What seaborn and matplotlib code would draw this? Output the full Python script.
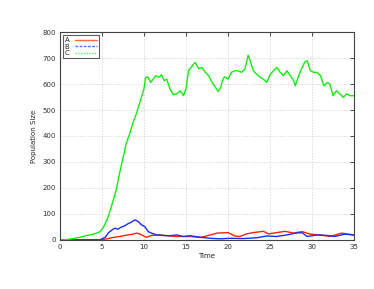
import pandas as pd
import seaborn as sns
import matplotlib
matplotlib.use("Agg")
import matplotlib.pyplot as plt

# ----------------------------
# Data
# ----------------------------
time_a = [0, 4.8, 5.6, 6.3, 7.1, 7.9, 8.7, 9.1, 9.5, 9.9, 10.3, 10.9, 11.9, 12.7, 13.9,
          14.3, 15.1, 15.5, 16.7, 17.9, 18.7, 20.0, 20.8, 21.4, 22.2, 23.0, 24.2, 24.8,
          25.8, 26.8, 27.8, 28.8, 29.8, 31.0, 32.1, 33.5, 34.9, 35.0]
pop_a = [0, 0, 4, 9, 13, 18, 22, 26, 23, 16, 10, 17, 19, 16, 13,
         13, 13, 13, 9, 19, 26, 28, 15, 13, 23, 28, 33, 23,
         28, 33, 26, 32, 22, 19, 13, 26, 19, 20]

time_b = [0, 4.8, 5.0, 5.4, 5.8, 6.2, 6.55, 6.9, 7.3, 7.7, 8.1, 8.5, 8.9, 9.3, 9.7,
          10.1, 10.5, 10.9, 11.5, 12.3, 13.1, 13.9, 14.7, 15.5, 16.7, 17.9, 19.1, 20.2,
          21.8, 23.4, 24.6, 25.8, 27.0, 28.0, 28.8, 29.4, 30.6, 31.8, 32.7, 33.9, 34.9, 35.0]
pop_b = [0, 0, 4, 10, 28, 38, 45, 41, 49, 54, 62, 68, 77, 71, 58,
         51, 32, 26, 19, 17, 16, 19, 13, 16, 10, 6, 4, 6,
         5, 8, 15, 13, 19, 26, 28, 13, 19, 17, 13, 22, 19, 18]

time_c = [0, 0.8, 1.6, 2.4, 3.2, 4.0, 4.8, 5.2, 5.6, 5.95, 6.3, 6.7, 7.1, 7.5, 7.9,
          8.1, 8.3, 8.7, 9.1, 9.4, 9.7, 10.0, 10.2, 10.5, 10.8, 11.1, 11.4, 11.8, 12.1,
          12.4, 12.7, 13.1, 13.5, 13.9, 14.3, 14.7, 15.0, 15.3, 15.9, 16.1, 16.5, 16.9,
          17.3, 17.7, 18.1, 18.5, 18.8, 19.1, 19.4, 19.6, 20.0, 20.4, 20.8, 21.2, 21.6,
          22.0, 22.4, 22.7, 23.0, 23.4, 23.8, 24.2, 24.6, 25.0, 25.4, 25.8, 26.2, 26.6,
          27.0, 27.4, 27.8, 28.0, 28.4, 28.8, 29.1, 29.4, 29.8, 30.2, 30.6, 31.0, 31.4,
          31.8, 32.1, 32.5, 32.9, 33.3, 33.7, 34.1, 34.5, 35.0]
pop_c = [0, 1, 5, 10, 17, 22, 32, 49, 77, 109, 147, 192, 256, 314, 372,
         390, 408, 452, 485, 517, 549, 581, 626, 626, 606, 619, 632, 626, 636,
         613, 619, 581, 559, 562, 574, 555, 581, 651, 677, 683, 659, 664,
         645, 632, 606, 587, 572, 585, 619, 628, 619, 645, 651, 651, 645,
         658, 711, 683, 651, 638, 626, 619, 606, 636, 651, 664, 645, 632,
         651, 632, 613, 593, 632, 664, 683, 690, 651, 645, 645, 632, 593,
         606, 600, 555, 574, 562, 548, 562, 555, 555]

series_names = ["A", "B", "C"]
colors = {"A": "#ff2200", "B": "#1a2bff", "C": "#11ee11"}
legend_styles = ["-", (0, (2, 1)), (0, (1, 1))]

xticks = list(range(0, 36, 5))
yticks = list(range(0, 801, 100))

# ----------------------------
# Build long table
# ----------------------------
frames = []
for name, t, p in zip(series_names, [time_a, time_b, time_c], [pop_a, pop_b, pop_c]):
    frames.append(pd.DataFrame({"Time": t, "Population Size": p, "series": name}))
df = pd.concat(frames, ignore_index=True)

# ----------------------------
# Plot
# ----------------------------
sns.set_theme(style="white")
plt.rcParams['font.family'] = ['DejaVu Sans']

fig = plt.figure(figsize=(3.74, 2.89), dpi=100)
ax = fig.add_axes([0.160, 0.170, 0.787, 0.719])

sns.lineplot(data=df, x="Time", y="Population Size", hue="series",
             palette=colors, estimator=None, sort=False,
             linewidth=1.0, ax=ax)

ax.set_xlim(0, 35)
ax.set_ylim(0, 800)
ax.set_xticks(xticks)
ax.set_yticks(yticks)
ax.tick_params(axis="both", direction="in", length=3, width=0.6, labelsize=5,
               top=True, right=True, colors="#333333", pad=3)
ax.grid(True, color="#cccccc", linestyle=(0, (2, 2)), linewidth=0.5)
for side in ["top", "bottom", "left", "right"]:
    ax.spines[side].set_color("#444444")
    ax.spines[side].set_linewidth(0.8)

ax.set_xlabel("Time", fontsize=5, labelpad=2)
ax.set_ylabel("Population Size", fontsize=5, labelpad=4)

leg = ax.legend(loc="upper left", fontsize=5, frameon=True, fancybox=False,
                handlelength=3.2, borderpad=0.3, labelspacing=0.1,
                borderaxespad=0.4, handletextpad=0.8, markerfirst=False,
                title=None)
for line, ls in zip(leg.get_lines(), legend_styles):
    line.set_linestyle(ls)
    line.set_alpha(0.7)
leg.get_frame().set_edgecolor("#333333")
leg.get_frame().set_linewidth(0.8)

fig.savefig("out.png", dpi=100)
